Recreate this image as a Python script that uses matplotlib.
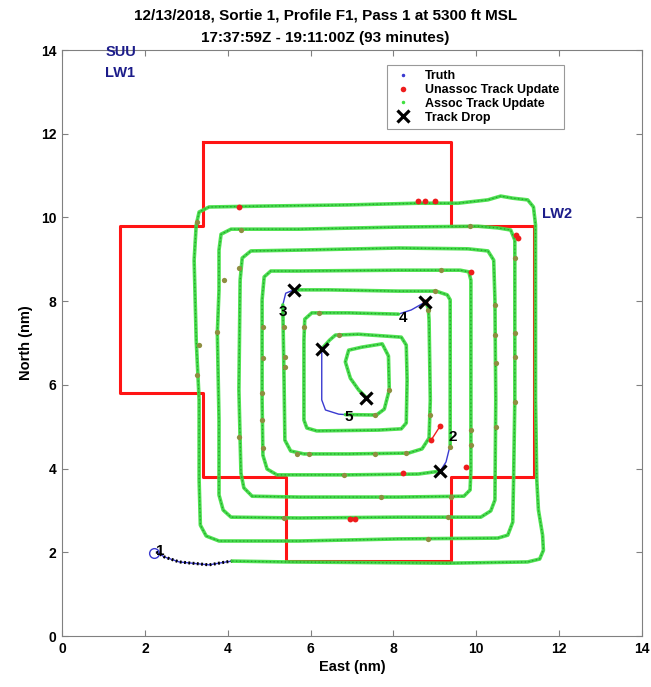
import numpy as np
import matplotlib
matplotlib.use('Agg')
import matplotlib.pyplot as plt
from matplotlib.lines import Line2D

plt.rcParams['font.family'] = ['Liberation Sans', 'DejaVu Sans']
plt.rcParams['font.weight'] = 'bold'

# test range boundary (nm)
boundary = [(3.4, 11.8), (9.4, 11.8), (9.4, 9.8), (11.4, 9.8), (11.4, 3.8), (9.4, 3.8),
            (9.4, 1.8), (5.4, 1.8), (5.4, 3.8), (3.4, 3.8), (3.4, 5.8), (1.4, 5.8),
            (1.4, 9.8), (3.4, 9.8), (3.4, 11.8)]

# truth before first track is formed
pre_track = [(2.28, 2.01), (2.47, 1.89), (2.83, 1.77), (3.55, 1.70), (3.96, 1.77), (4.11, 1.79)]

# associated tracks (east, north)
track1 = [(4.11, 1.79), (5.40, 1.77), (9.32, 1.74), (11.24, 1.77), (11.53, 1.84), (11.62, 2.05),
          (11.60, 2.41), (11.50, 3.01), (11.46, 3.73), (11.43, 5.64), (11.43, 8.03), (11.43, 9.82),
          (11.38, 10.25), (11.24, 10.42), (10.88, 10.46), (10.59, 10.51), (10.28, 10.42),
          (9.56, 10.34), (8.60, 10.34), (6.92, 10.30), (4.76, 10.27), (3.55, 10.25), (3.31, 10.13),
          (3.24, 9.82), (3.19, 8.98), (3.24, 7.07), (3.31, 5.64), (3.31, 3.73), (3.34, 2.65),
          (3.48, 2.39), (3.79, 2.27),
          (5.72, 2.27), (8.12, 2.32), (10.52, 2.34), (10.76, 2.41), (10.88, 2.72), (10.90, 3.73),
          (10.93, 5.64), (10.93, 8.03), (10.93, 9.46), (10.83, 9.70), (10.52, 9.75), (10.04, 9.79),
          (8.12, 9.77), (5.72, 9.72), (4.08, 9.72), (3.84, 9.60), (3.79, 9.22), (3.79, 8.27),
          (3.75, 7.24), (3.79, 5.16), (3.79, 3.37), (3.89, 3.01), (4.08, 2.84),
          (5.72, 2.82), (8.12, 2.84), (10.11, 2.84), (10.35, 2.99), (10.45, 3.25), (10.47, 5.64),
          (10.45, 8.03), (10.42, 8.98), (10.28, 9.20), (9.80, 9.25), (8.12, 9.27), (5.72, 9.22),
          (4.56, 9.20), (4.35, 9.03), (4.30, 8.50), (4.27, 5.88), (4.32, 3.89), (4.39, 3.54),
          (4.59, 3.34),
          (5.72, 3.32), (8.12, 3.32), (9.70, 3.34), (9.85, 3.49), (9.87, 3.97), (9.87, 6.12),
          (9.87, 8.50), (9.82, 8.70), (9.61, 8.74), (8.12, 8.74), (5.72, 8.72), (5.04, 8.72),
          (4.88, 8.58), (4.83, 8.03), (4.83, 5.64), (4.85, 4.32), (4.95, 3.99), (5.19, 3.85),
          (6.92, 3.85), (8.60, 3.87), (9.13, 3.94)]
gap12 = [(9.13, 3.94), (9.27, 4.16), (9.37, 4.56)]
track2 = [(9.37, 4.56), (9.37, 5.64), (9.37, 8.03), (9.30, 8.15), (9.03, 8.24), (8.12, 8.24),
          (6.44, 8.27), (5.60, 8.27)]
gap23 = [(5.60, 8.27), (5.40, 8.19), (5.33, 7.91)]
track3 = [(5.33, 7.91), (5.36, 6.12), (5.38, 4.68), (5.52, 4.42), (5.84, 4.35), (6.92, 4.35),
          (8.36, 4.37), (8.69, 4.47), (8.86, 4.73), (8.89, 5.64), (8.86, 7.55), (8.84, 7.84),
          (8.77, 7.98)]
gap34 = [(8.77, 7.98), (8.43, 7.79), (8.12, 7.69)]
track4 = [(8.12, 7.69), (6.92, 7.72), (6.03, 7.72), (5.86, 7.57), (5.84, 7.07), (5.84, 5.16),
          (5.91, 4.97), (6.15, 4.90), (7.64, 4.92), (8.19, 4.95), (8.31, 5.09), (8.33, 6.12),
          (8.31, 6.95), (8.19, 7.14), (7.16, 7.21), (6.60, 7.19), (6.46, 7.07), (6.27, 6.86)]
gap45 = [(6.27, 6.86), (6.27, 6.59), (6.27, 5.64), (6.36, 5.40), (6.68, 5.30), (6.84, 5.29)]
track5 = [(6.84, 5.29), (7.59, 5.28), (7.78, 5.42), (7.90, 5.88), (7.88, 6.69), (7.73, 6.98),
          (7.23, 6.90), (6.92, 6.83), (6.84, 6.55), (6.96, 6.16), (7.16, 5.88), (7.35, 5.69)]

# unassociated track updates
unassoc_off = [(9.87, 8.70), (9.13, 5.02), (8.91, 4.68), (9.75, 4.04), (8.24, 3.89),
               (6.96, 2.80), (7.08, 2.80), (4.27, 10.25), (8.60, 10.39), (8.77, 10.39),
               (9.01, 10.39), (10.95, 9.58), (11.00, 9.51), (8.77, 7.98)]
unassoc_on = [(3.27, 9.89), (3.31, 6.95), (3.27, 6.24), (3.91, 8.50), (3.75, 7.26), (4.32, 9.70),
              (4.27, 8.79), (4.27, 4.75), (4.85, 7.38), (4.85, 6.64), (4.83, 5.81), (4.83, 5.16),
              (4.86, 4.49), (5.36, 7.38), (5.38, 6.67), (5.38, 6.43), (5.84, 7.38), (5.67, 4.35),
              (5.96, 4.35), (6.20, 7.72), (6.68, 7.20), (9.85, 9.79), (10.93, 9.03), (10.45, 7.91),
              (10.46, 7.19), (10.47, 6.52), (10.93, 7.24), (10.93, 6.67), (10.93, 5.59),
              (10.47, 4.99), (9.87, 4.92), (9.87, 4.56), (8.89, 5.28), (9.39, 3.33), (9.32, 2.84),
              (8.84, 2.32), (9.01, 8.24), (8.84, 7.79), (7.56, 4.36), (8.31, 4.37), (6.80, 3.85),
              (7.71, 3.32), (5.36, 2.82), (9.15, 8.74), (7.90, 5.88), (7.56, 5.28), (9.37, 4.52)]
unassoc_link = [(8.91, 4.68), (9.13, 5.02)]

# track drops and track numbers
drops = [(9.13, 3.94), (5.60, 8.27), (8.77, 7.98), (6.27, 6.86), (7.35, 5.69)]
track_ids = ['1', '2', '3', '4', '5']
id_pos = [(2.38, 2.02), (9.44, 4.75), (5.33, 7.74), (8.24, 7.60), (6.92, 5.23)]
start_pt = (2.23, 1.98)

sites = ['SUU', 'LW1', 'LW2']
site_pos = [(1.05, 13.95), (1.05, 13.45), (11.58, 10.08)]


def xy(pts):
    a = np.array(pts)
    return a[:, 0], a[:, 1]


truth = pre_track + track1 + gap12[1:] + track2[1:] + gap23[1:] + track3[1:] + gap34[1:] \
    + track4[1:] + gap45[1:] + track5[1:]
tracks = [track1, track2, track3, track4, track5]

fig = plt.figure(figsize=(6.51, 6.87), dpi=100)
ax = fig.add_axes([0.0952, 0.0742, 0.891, 0.853])

bx, by = xy(boundary)
ax.plot(bx, by, color='#ff1414', lw=2.2, zorder=2)

tx, ty = xy(truth)
ax.plot(tx, ty, color='#3a3ad0', lw=1.0, zorder=3)

px_, py_ = xy(pre_track)
ax.plot(px_, py_, color='black', lw=2.2, ls=(0, (0.6, 0.8)), zorder=4)

for trk in tracks:
    gx, gy = xy(trk)
    ax.plot(gx, gy, color='#3fe03f', lw=2.6, alpha=0.9, zorder=4, solid_capstyle='round')
    ax.plot(gx, gy, color='#22a822', lw=0.9, ls=(0, (1, 2)), zorder=4)

ox, oy = xy(unassoc_on)
ax.plot(ox, oy, 'o', color='#8e8e40', ms=3.8, mew=0, zorder=5)
lx, ly = xy(unassoc_link)
ax.plot(lx, ly, color='#ee2020', lw=1.0, zorder=5)
rx, ry = xy(unassoc_off)
ax.plot(rx, ry, 'o', color='#ee1c1c', ms=4.2, mew=0, zorder=6)

dx, dy = xy(drops)
ax.plot(dx, dy, 'x', color='black', ms=8.5, mew=2.3, zorder=7)
ax.plot(*start_pt, 'o', mfc='none', mec='#3a3ad0', ms=7, mew=1, zorder=7)

for lab, (x, y) in zip(track_ids, id_pos):
    ax.text(x, y, lab, fontsize=11, fontweight='bold', ha='center', va='center', zorder=8)
for lab, (x, y) in zip(sites, site_pos):
    ax.text(x, y, lab, fontsize=10.5, fontweight='bold', color='#1c1c8a', ha='left',
            va='center', zorder=8)

ax.set_xlim(0, 14)
ax.set_ylim(0, 14)
ax.set_xticks(range(0, 15, 2))
ax.set_yticks(range(0, 15, 2))
ax.tick_params(direction='in', top=True, right=True, length=4, labelsize=10,
               color='#808080', pad=4)
for s in ax.spines.values():
    s.set_color('#808080')
ax.set_xlabel('East (nm)', fontsize=10.5, fontweight='bold', labelpad=3)
ax.set_ylabel('North (nm)', fontsize=10.5, fontweight='bold', labelpad=6)

fig.text(0.5, 0.978, '12/13/2018, Sortie 1, Profile F1, Pass 1 at 5300 ft MSL',
         ha='center', va='center', fontsize=11, fontweight='bold')
fig.text(0.5, 0.945, '17:37:59Z - 19:11:00Z (93 minutes)',
         ha='center', va='center', fontsize=11, fontweight='bold')

handles = [Line2D([], [], ls='none', marker='.', color='#3a3ad0', ms=3),
           Line2D([], [], ls='none', marker='o', color='#ee1c1c', ms=4, mew=0),
           Line2D([], [], ls='none', marker='.', color='#3fe03f', ms=3),
           Line2D([], [], ls='none', marker='x', color='black', ms=8, mew=2.3)]
labels = ['Truth', 'Unassoc Track Update', 'Assoc Track Update', 'Track Drop']
leg = ax.legend(handles, labels, loc='upper right', bbox_to_anchor=(0.876, 0.985),
                fontsize=9, frameon=True, fancybox=False, edgecolor='#808080',
                handlelength=1.8, labelspacing=0.15, borderpad=0.4, handletextpad=0.8)
leg.get_frame().set_linewidth(0.8)

fig.savefig('out.png', dpi=100)
